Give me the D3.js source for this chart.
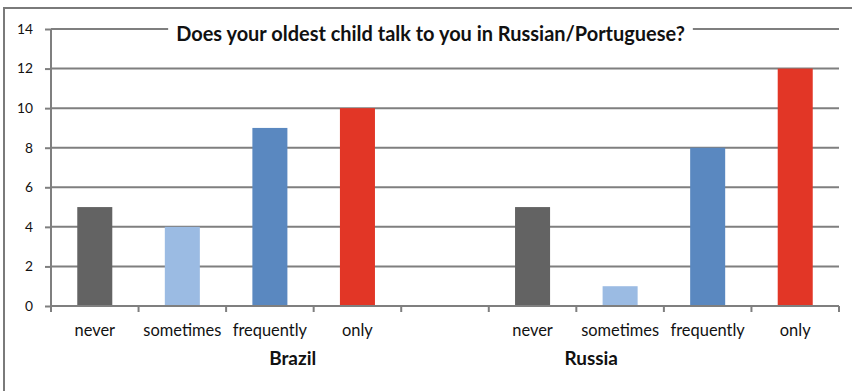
<!DOCTYPE html>
<html>
<head>
<meta charset="utf-8">
<script src="https://cdn.jsdelivr.net/npm/d3@7"></script>
<style>
  html, body { margin: 0; padding: 0; background: #fff; }
  svg { display: block; }
</style>
</head>
<body>
<svg id="chart" width="852" height="391"></svg>
<script>
// Survey answers per country
const title = "Does your oldest child talk to you in Russian/Portuguese?";
const answers = ["never", "sometimes", "frequently", "only"];
const countries = ["Brazil", "Russia"];
const brazilValues = [5, 4, 9, 10];
const russiaValues = [5, 1, 8, 12];
const yTicks = [0, 2, 4, 6, 8, 10, 12, 14];
const colors = ["#636363", "#9bbbe3", "#5a88c0", "#e23626"];
// Country label centres, measured in category slots from the left axis
const countryLabelSlots = [2.76, 6.17];

const FONT = "Lato, 'Open Sans', sans-serif";
const svg = d3.select("#chart");
const W = 852, H = 391;
const margin = { left: 51, right: 13, top: 29, bottom: 85 };
const plotW = W - margin.left - margin.right;
const plotH = H - margin.top - margin.bottom;

// Pick a font size that gives a sample string the wanted rendered width
function fitSize(sample, weight, width) {
  const t = svg.append("text").attr("font-family", FONT).attr("font-weight", weight)
    .attr("font-size", 100).text(sample);
  const w = t.node().getComputedTextLength();
  t.remove();
  return 100 * width / w;
}
const titleSize = fitSize(title, "bold", 509);
const catSize = fitSize("sometimes", "normal", 78);
const countrySize = fitSize("Brazil", "bold", 47);
const tickSize = Math.min(catSize, fitSize("14", "normal", 16));

// Slots: 4 Brazil answers, a blank gap, 4 Russia answers
const slots = [];
answers.forEach((a, i) => slots.push({ key: "B" + i, label: a, value: brazilValues[i], color: colors[i] }));
slots.push({ key: "gap", label: "", value: null });
answers.forEach((a, i) => slots.push({ key: "R" + i, label: a, value: russiaValues[i], color: colors[i] }));

const x = d3.scaleBand().domain(slots.map(d => d.key)).range([0, plotW]).paddingInner(0.6).paddingOuter(0.3);
const slotX = d3.scaleLinear().domain([0, slots.length]).range([0, plotW]);
const y = d3.scaleLinear().domain([0, 14]).range([plotH, 0]);

// Outer chart frame
svg.append("rect").attr("x", 4).attr("y", 8).attr("width", W + 10).attr("height", H + 10)
  .attr("fill", "none").attr("stroke", "#7a7a7a").attr("stroke-width", 2);

const g = svg.append("g").attr("transform", `translate(${margin.left},${margin.top})`);

// Horizontal gridlines
g.append("g").selectAll("line").data(yTicks.filter(t => t > 0)).join("line")
  .attr("x1", 0).attr("x2", plotW)
  .attr("y1", d => y(d)).attr("y2", d => y(d))
  .attr("stroke", "#7f7f7f").attr("stroke-width", 2);

// Bars
g.append("g").selectAll("rect").data(slots.filter(d => d.value !== null)).join("rect")
  .attr("x", d => x(d.key))
  .attr("width", x.bandwidth())
  .attr("y", d => y(d.value))
  .attr("height", d => y(0) - y(d.value))
  .attr("fill", d => d.color);

// Y axis
const yAxis = g.append("g").call(d3.axisLeft(y).tickValues(yTicks).tickSize(6).tickPadding(12).tickFormat(d3.format("d")));
yAxis.select(".domain").attr("stroke", "#7f7f7f").attr("stroke-width", 2).attr("d", `M0,0V${plotH}`);
yAxis.selectAll(".tick line").attr("stroke", "#7f7f7f").attr("stroke-width", 2);
yAxis.selectAll(".tick text").attr("font-family", FONT).attr("font-size", tickSize).attr("fill", "#111");

// X axis with tick marks between slots
const xg = g.append("g").attr("transform", `translate(0,${plotH})`);
xg.append("line").attr("x1", 0).attr("x2", plotW).attr("y1", 0).attr("y2", 0)
  .attr("stroke", "#7f7f7f").attr("stroke-width", 2);
xg.selectAll("line.tk").data(d3.range(slots.length + 1)).join("line").attr("class", "tk")
  .attr("x1", d => slotX(d)).attr("x2", d => slotX(d)).attr("y1", 0).attr("y2", 6)
  .attr("stroke", "#7f7f7f").attr("stroke-width", 2);
xg.selectAll("text.cat").data(slots).join("text").attr("class", "cat")
  .attr("x", d => x(d.key) + x.bandwidth() / 2)
  .attr("y", 30)
  .attr("text-anchor", "middle")
  .attr("font-family", FONT).attr("font-size", catSize).attr("fill", "#111")
  .text(d => d.label);
xg.selectAll("text.country").data(countries).join("text").attr("class", "country")
  .attr("x", (d, i) => slotX(countryLabelSlots[i]))
  .attr("y", 59)
  .attr("text-anchor", "middle")
  .attr("font-family", FONT).attr("font-weight", "bold").attr("font-size", countrySize).attr("fill", "#111")
  .text(d => d);

// Title with a white backing over the top gridline
const tg = svg.append("g");
const tbg = tg.append("rect").attr("fill", "#fff");
const tt = tg.append("text")
  .attr("x", 430.5).attr("y", 41)
  .attr("text-anchor", "middle")
  .attr("font-family", FONT).attr("font-weight", "bold").attr("font-size", titleSize).attr("fill", "#111")
  .text(title);
const bb = tt.node().getBBox();
tbg.attr("x", bb.x - 8).attr("y", bb.y).attr("width", bb.width + 16).attr("height", bb.height);
</script>
</body>
</html>
